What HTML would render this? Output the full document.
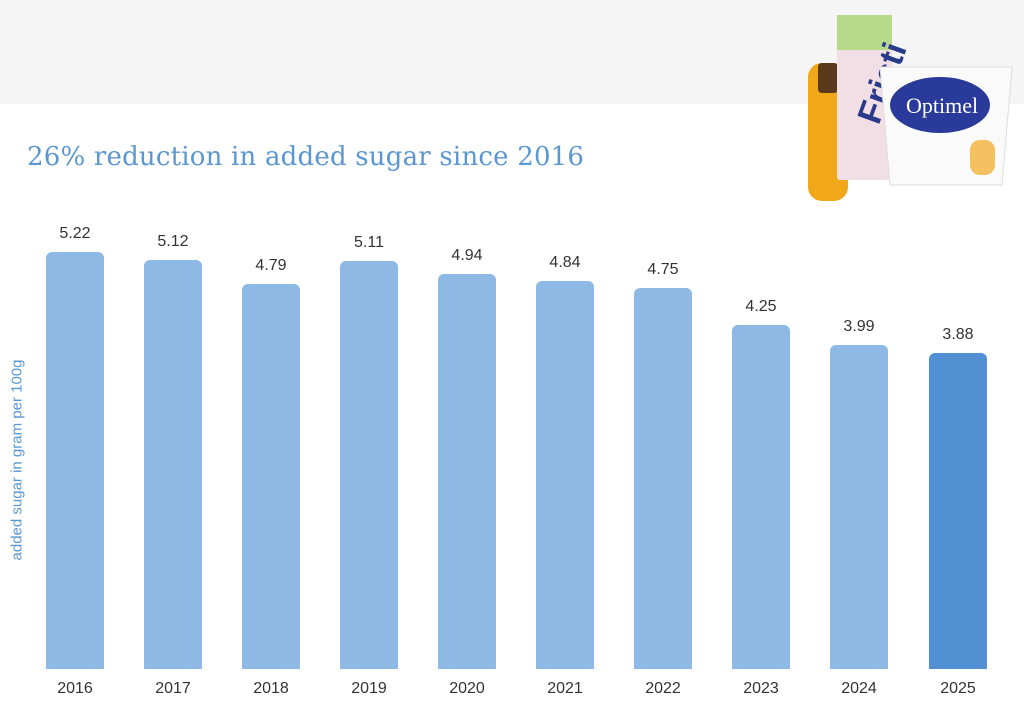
<!DOCTYPE html>
<html><head><style>
body{margin:0;width:1024px;height:711px;background:#fff;position:relative;overflow:hidden;font-family:"Liberation Sans",sans-serif}
.band{position:absolute;left:0;top:0;width:1024px;height:104px;background:#f5f5f5}
.title{position:absolute;left:27px;top:142px;font-family:"DejaVu Serif","Liberation Serif",serif;font-size:26px;color:#5b97d2;letter-spacing:0.2px}
.bar{position:absolute;width:58px;background:#8db9e4;border-radius:6px 6px 0 0}
.v{position:absolute;width:80px;text-align:center;font-size:16px;color:#333}
.y{position:absolute;top:680px;width:80px;text-align:center;font-size:16px;color:#333}
.ax{position:absolute;left:17px;top:460px;transform:translate(-50%,-50%) rotate(-90deg);font-size:15px;color:#5b97d2;white-space:nowrap}
</style></head><body>
<div class="band"></div>
<div class="title">26% reduction in added sugar since 2016</div>
<div class="ax">added sugar in gram per 100g</div>
<svg style="position:absolute;left:790px;top:5px" width="230" height="200">
<rect x="18" y="58" width="40" height="138" rx="14" fill="#f0a818"/>
<rect x="28" y="58" width="20" height="30" rx="4" fill="#5a3a1a"/>
<rect x="47" y="10" width="55" height="165" rx="3" fill="#f2dfe6"/>
<rect x="47" y="10" width="55" height="35" fill="#b6d98a"/>
<text x="60" y="120" font-size="34" font-weight="bold" fill="#2a3a8a" transform="rotate(-70 75 100)">Fristi</text>
<path d="M90 62 L222 62 L212 180 L100 180 Z" fill="#fafafa" stroke="#ddd"/>
<ellipse cx="150" cy="100" rx="50" ry="28" fill="#2a3a9a"/>
<text x="116" y="108" font-size="22" fill="#fff" font-family="Liberation Serif">Optimel</text>
<rect x="180" y="135" width="25" height="35" fill="#f4c060" rx="10"/>
</svg>
<div class="bar" style="left:46px;top:252px;height:417px"></div>
<div class="bar" style="left:144px;top:260px;height:409px"></div>
<div class="bar" style="left:242px;top:284px;height:385px"></div>
<div class="bar" style="left:340px;top:261px;height:408px"></div>
<div class="bar" style="left:438px;top:274px;height:395px"></div>
<div class="bar" style="left:536px;top:281px;height:388px"></div>
<div class="bar" style="left:634px;top:288px;height:381px"></div>
<div class="bar" style="left:732px;top:325px;height:344px"></div>
<div class="bar" style="left:830px;top:345px;height:324px"></div>
<div class="bar" style="left:929px;top:353px;height:316px;background:#5191d3"></div>
<div class="v" style="left:35px;top:225px">5.22</div>
<div class="v" style="left:133px;top:233px">5.12</div>
<div class="v" style="left:231px;top:257px">4.79</div>
<div class="v" style="left:329px;top:234px">5.11</div>
<div class="v" style="left:427px;top:247px">4.94</div>
<div class="v" style="left:525px;top:254px">4.84</div>
<div class="v" style="left:623px;top:261px">4.75</div>
<div class="v" style="left:721px;top:298px">4.25</div>
<div class="v" style="left:819px;top:318px">3.99</div>
<div class="v" style="left:918px;top:326px">3.88</div>
<div class="y" style="left:35px">2016</div>
<div class="y" style="left:133px">2017</div>
<div class="y" style="left:231px">2018</div>
<div class="y" style="left:329px">2019</div>
<div class="y" style="left:427px">2020</div>
<div class="y" style="left:525px">2021</div>
<div class="y" style="left:623px">2022</div>
<div class="y" style="left:721px">2023</div>
<div class="y" style="left:819px">2024</div>
<div class="y" style="left:918px">2025</div>
</body></html>
